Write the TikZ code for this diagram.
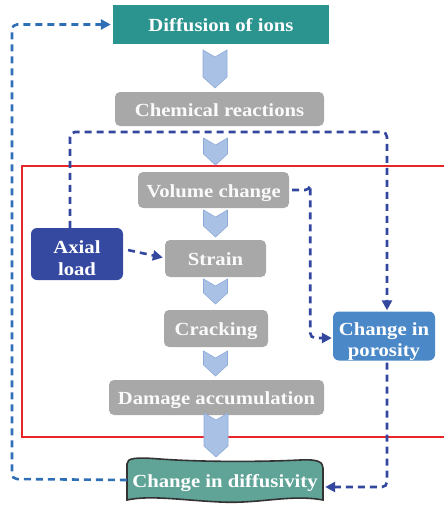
\documentclass[tikz,border=0pt]{standalone}
\usepackage{fontspec}
\setmainfont{Liberation Serif}[FakeStretch=1.12]
\usetikzlibrary{arrows.meta,calc}
\definecolor{teal1}{HTML}{2B948F}
\definecolor{teal2}{HTML}{5FA497}
\definecolor{grayb}{HTML}{A8A8A8}
\definecolor{axb}{HTML}{3549A0}
\definecolor{porb}{HTML}{4A88C8}
\definecolor{chevf}{HTML}{A9C1E5}
\definecolor{chevd}{HTML}{8FAAD8}
\definecolor{dline}{HTML}{34479E}
\definecolor{lline}{HTML}{2F6FB5}
\definecolor{redl}{HTML}{E8262A}
\newcommand\mychev[3]{%
  \fill[chevf,draw=chevd,line width=0.6pt] (#1-12,#2) -- (#1,#2+7) -- (#1+12,#2) -- (#1+12,#3-11) -- (#1,#3) -- (#1-12,#3-11) -- cycle;}
\tikzset{
  txt/.style={text=white,font=\bfseries\fontsize{18.5}{20}\selectfont,inner sep=0pt,align=center},
  oneline/.style={text height=15pt,text depth=1pt},
  graybox/.style={txt,oneline,fill=grayb,rounded corners=5pt,text=white!96!gray},
  dash line/.style={line width=2.6pt,dash pattern=on 7pt off 5pt,rounded corners=5pt},
  tip/.style={-{Triangle[length=10pt,width=10pt]}}
}
\begin{document}
\begin{tikzpicture}[x=1pt,y=-1pt]
\useasboundingbox (0,0) rectangle (444,507);
% red frame
\draw[redl,line width=1.3pt] (22,166) rectangle (450,437);
% nodes
\node[txt,oneline,fill=teal1,minimum width=216pt,minimum height=39pt] (dif) at (221,24.5) {Diffusion of ions};
\node[graybox,minimum width=209pt,minimum height=34pt] (chem) at (219.5,109) {Chemical reactions};
\node[graybox,minimum width=151pt,minimum height=36pt] (vol) at (213.5,190) {Volume change};
\node[txt,fill=axb,rounded corners=6pt,minimum width=92pt,minimum height=52pt] (axial) at (77,254) {\rule{0pt}{22pt}Axial\\[2pt]load};
\node[graybox,minimum width=101pt,minimum height=37pt] (strain) at (215.5,258.5) {Strain};
\node[graybox,minimum width=104pt,minimum height=37pt] (crack) at (216,328.5) {Cracking};
\node[graybox,minimum width=215pt,minimum height=35pt] (dam) at (216.5,397.5) {Damage accumulation};
\node[txt,fill=porb,rounded corners=6pt,minimum width=102pt,minimum height=44pt] (por) at (384,336) {\rule{0pt}{24pt}Change in\\[1pt]porosity};
% banner
\filldraw[fill=teal2,draw=black!80,line width=1.6pt]
  (127,464) .. controls (127,458) and (135,457) .. (160,459)
  .. controls (200,462) and (260,462) .. (300,460)
  .. controls (318,459) and (323,462) .. (323,468)
  -- (323,500)
  .. controls (290,494) and (260,504) .. (220,502)
  .. controls (180,500) and (150,495) .. (127,500) -- cycle;
\node[txt,oneline,minimum width=196pt,minimum height=40pt] (diffu) at (225,480) {Change in diffusivity};
% chevrons
\mychev{215}{50}{88}
\mychev{215.5}{138}{165}
\mychev{215.5}{210}{237}
\mychev{215.5}{279}{304}
\mychev{215.5}{351}{376}
\mychev{216}{413}{457}
% connectors
\draw[dash line,lline,tip,shorten >=2pt] (diffu.west) -- (12,479) |- (dif.west);
\draw[dash line,dline,tip,shorten >=1pt] ([xshift=-7pt]axial.north) |- (387,132) -- ([xshift=3pt]por.north);
\draw[dash line,dline,tip,shorten <=3pt,shorten >=1pt] (vol.east) -| ($(vol.east)+(21,0)$) |- ([yshift=-2pt]por.west);
\draw[dash line,dline,tip,shorten <=5pt,shorten >=2pt] ([yshift=5pt]axial.east) -- ([yshift=0.5pt]strain.west);
\draw[dash line,dline,tip,shorten <=2pt,shorten >=2pt] ([xshift=3pt]por.south) |- ([yshift=-7pt]diffu.east);
\end{tikzpicture}
\end{document}
